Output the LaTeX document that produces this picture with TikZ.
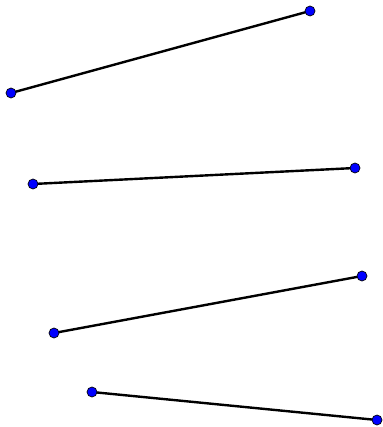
\documentclass[tikz,border=0pt]{standalone}
\usetikzlibrary{positioning,backgrounds}

\begin{document}
\begin{tikzpicture}[
        x=0.75pt, y=-0.75pt,
        pt/.style={circle, draw=black, fill=blue, line width=0.5pt, inner sep=0pt, minimum size=7.5pt},
        seg/.style={line width=1.8pt, draw=black}
    ]
        \useasboundingbox (0,0) rectangle (382,427);

        \node[pt] (a1) at (11,93) {};
        \node[pt] (b1) at (310,11) {};
        \node[pt] (a2) at (33,184) {};
        \node[pt] (b2) at (355,168) {};
        \node[pt] (a3) at (54,333) {};
        \node[pt] (b3) at (362,276) {};
        \node[pt] (a4) at (92,392) {};
        \node[pt] (b4) at (377,420) {};

        \begin{pgfonlayer}{background}
            \draw[seg] (a1.center) -- (b1.center);
            \draw[seg] (a2.center) -- (b2.center);
            \draw[seg] (a3.center) -- (b3.center);
            \draw[seg] (a4.center) -- (b4.center);
        \end{pgfonlayer}
    \end{tikzpicture}
\end{document}
